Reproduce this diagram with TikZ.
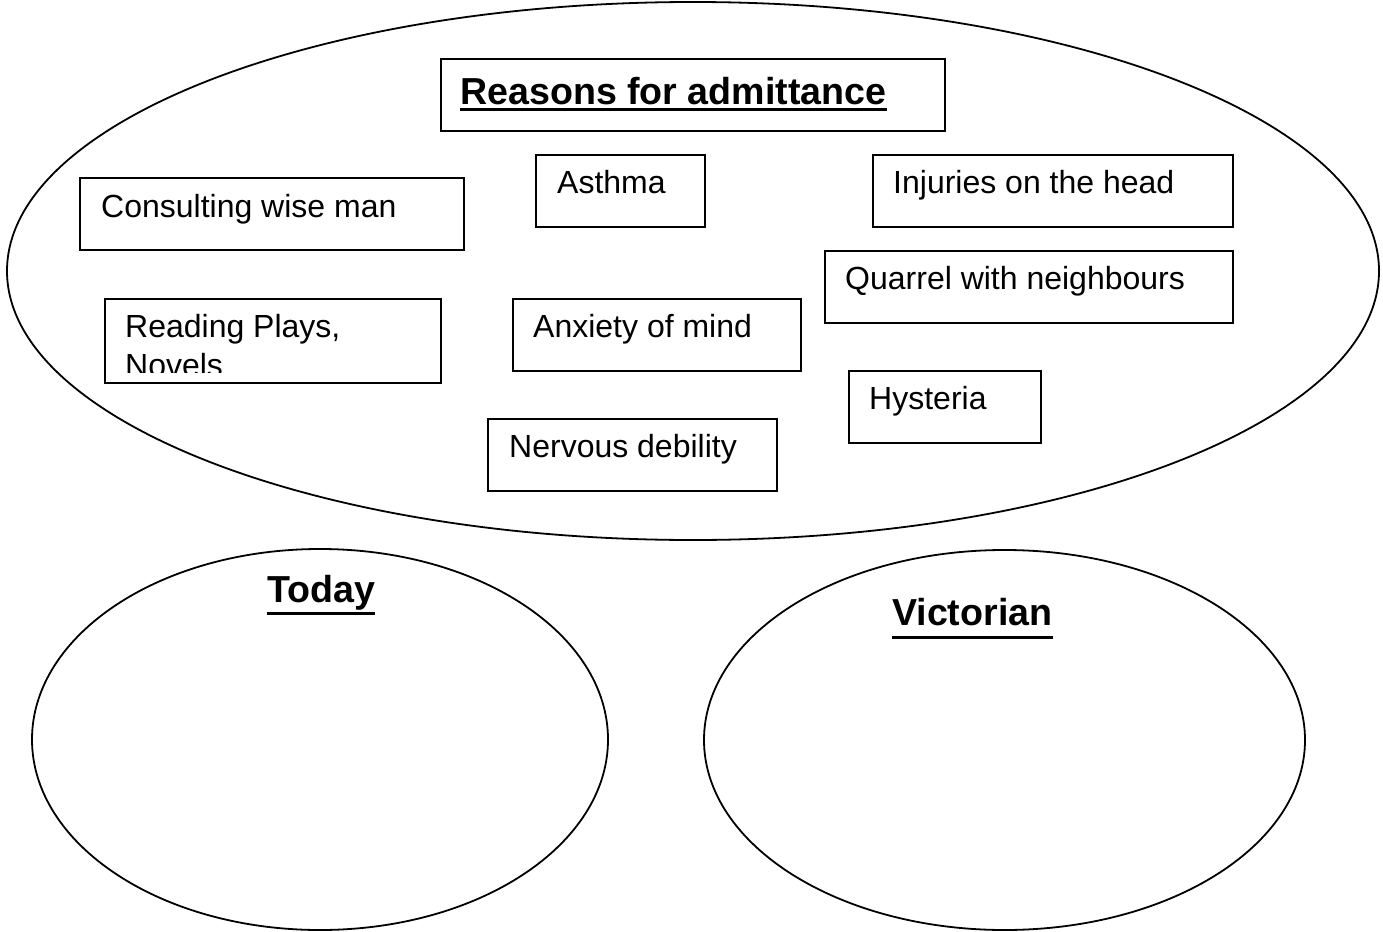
\documentclass[tikz,border=0pt]{standalone}
\usepackage{fontspec}
\setmainfont{Liberation Sans}
\usetikzlibrary{calc,shapes.geometric}
\begin{document}
\begin{tikzpicture}[x=1pt,y=-1pt,
  line/.style={line width=1.8pt},
  oval/.style={draw,ellipse,line,inner sep=0pt},
  box/.style={draw,line,rectangle,inner sep=0pt,anchor=north west},
  txt/.style={inner sep=0pt,anchor=base west,font=\fontsize{32}{39}\selectfont},
  head/.style={inner sep=0pt,anchor=base west,font=\fontsize{37.6}{44}\selectfont\bfseries},
  uline/.style={line width=3pt}
]
\useasboundingbox (0,0) rectangle (1383,931);
\fill[white] (0,0) rectangle (1383,931);

% ellipses
\node[oval,minimum width=1372pt,minimum height=538pt] (big) at (693,271) {};
\node[oval,minimum width=576pt,minimum height=381pt] (today) at (320,739.5) {};
\node[oval,minimum width=601pt,minimum height=380pt] (vict) at (1004.5,740) {};

% title
\node[box,minimum width=504pt,minimum height=72pt] (titlebox) at (440,58) {};
\node[head] (title) at (460,105) {Reasons for admittance};
\draw[uline] ($(title.base west)+(0,5)$) -- ($(title.base east)+(0,5)$);

% boxes
\node[box,minimum width=384pt,minimum height=72pt] (cons) at (79,177) {};
\node[txt] (consT) at (101,217) {Consulting wise man};

\node[box,minimum width=169pt,minimum height=72pt] (asth) at (535,154) {};
\node[txt] (asthT) at (557,193) {Asthma};

\node[box,minimum width=360pt,minimum height=72pt] (inj) at (872,154) {};
\node[txt] (injT) at (893,193) {Injuries on the head};

\node[box,minimum width=408pt,minimum height=72pt] (quar) at (824,250) {};
\node[txt] (quarT) at (845,289) {Quarrel with neighbours};

\node[box,minimum width=336pt,minimum height=84pt] (read) at (104,298) {};
\begin{scope}
  \clip (104,298) rectangle (440,372);
  \node[txt] (readT) at (125,337) {Reading Plays,};
  \node[txt] (readT2) at (125,376) {Novels};
\end{scope}

\node[box,minimum width=288pt,minimum height=72pt] (anx) at (512,298) {};
\node[txt] (anxT) at (533,337) {Anxiety of mind};

\node[box,minimum width=192pt,minimum height=72pt] (hyst) at (848,370) {};
\node[txt] (hystT) at (869,409) {Hysteria};

\node[box,minimum width=289pt,minimum height=72pt] (nerv) at (487,418) {};
\node[txt] (nervT) at (509,457) {Nervous debility};

% bottom headings
\node[head] (todayT) at (267,602) {Today};
\draw[uline] ($(todayT.base west)+(0,11)$) -- ($(todayT.base east)+(0,11)$);
\node[head] (victT) at (892,625) {Victorian};
\draw[uline] ($(victT.base west)+(0,12)$) -- ($(victT.base east)+(0,12)$);
\end{tikzpicture}
\end{document}
